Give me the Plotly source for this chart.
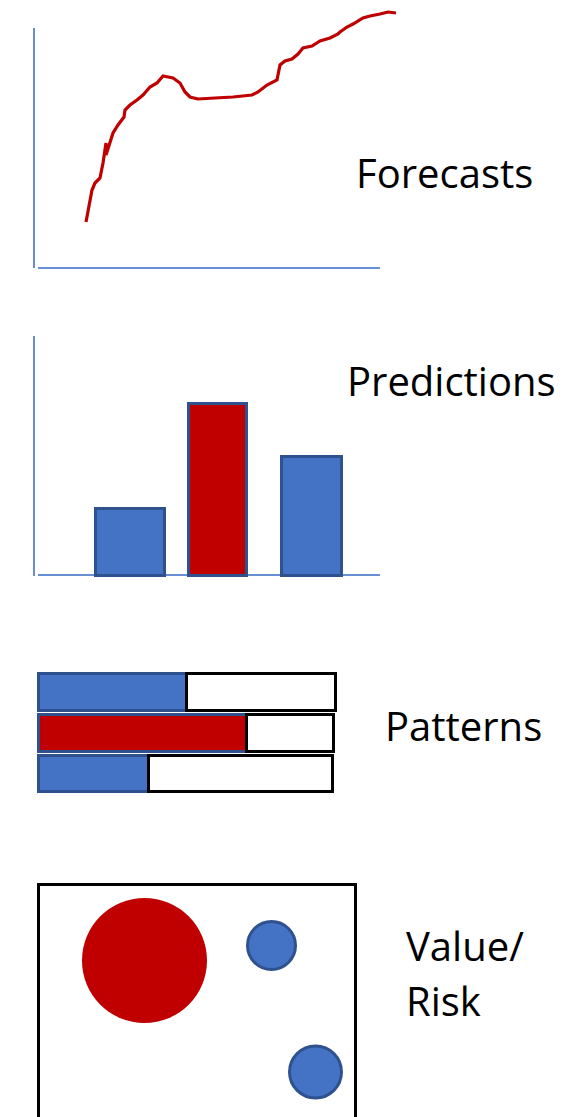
import plotly.graph_objects as go

W, H = 578, 1117

# ---- data -------------------------------------------------------------
# forecast line (time step, value)
forecast_t = [52, 58, 61, 66, 69, 72, 72, 75, 79, 84, 90, 91, 96, 103, 109, 116, 123,
              129, 139, 146, 151, 156, 164, 181, 199, 218, 224, 233, 243, 246, 251,
              258, 264, 269, 278, 286, 296, 304, 306, 313, 319, 329, 336, 346, 354, 362]
forecast_v = [46, 78, 85, 90, 105, 125, 113, 123, 135, 143, 151, 158, 163, 168, 173, 181,
              185, 192, 190, 185, 176, 171, 169, 170, 171, 173, 176, 183, 188, 203, 207,
              209, 214, 220, 222, 227, 230, 234, 236, 241, 244, 250, 252, 254, 256, 255]

# prediction bars
pred_pos = [96, 183, 277]
pred_width = [69, 58, 60]
pred_value = [67, 172, 119]
pred_color = ["#4472C4", "#C00000", "#4472C4"]

# pattern rows (filled share + remainder)
pattern_rows = ["A", "B", "C"]
pattern_filled = [148, 208, 110]
pattern_rest = [149, 87, 184]
pattern_color = ["#4472C4", "#C00000", "#4472C4"]

# value / risk bubbles
risk_x = [107.5, 234.5, 278.5]
risk_y = [156.5, 171.5, 45]
risk_size = [125, 48, 52]
risk_color = ["#C00000", "#4472C4", "#4472C4"]
risk_outline = [0, 3, 3]

labels = ["Forecasts", "Predictions", "Patterns", "Value/", "Risk"]

# ---- styling ----------------------------------------------------------
RED = "#C00000"
EDGE = "#2F528F"
AXIS = "#6A8ED3"
FONT = "Open Sans"
FSIZE = 40


def py(p):
    """pixel row -> paper fraction"""
    return 1 - p / H


fig = go.Figure()

# panel 1: line
fig.add_trace(go.Scatter(x=forecast_t, y=forecast_v, mode="lines",
                         line=dict(color=RED, width=3.2), xaxis="x", yaxis="y",
                         hoverinfo="skip"))

# panel 2: bars
fig.add_trace(go.Bar(x=pred_pos, y=pred_value, width=pred_width,
                     marker=dict(color=pred_color, line=dict(color=EDGE, width=3)),
                     xaxis="x2", yaxis="y2", hoverinfo="skip"))

# panel 3: stacked horizontal bars
fig.add_trace(go.Bar(y=pattern_rows, x=pattern_filled, orientation="h", width=0.9,
                     marker=dict(color=pattern_color, line=dict(color=EDGE, width=3)),
                     xaxis="x3", yaxis="y3", hoverinfo="skip"))
fig.add_trace(go.Bar(y=pattern_rows, x=pattern_rest, orientation="h", width=0.9,
                     marker=dict(color="white", line=dict(color="black", width=3)),
                     xaxis="x3", yaxis="y3", hoverinfo="skip"))

# panel 4: bubbles
fig.add_trace(go.Scatter(x=risk_x, y=risk_y, mode="markers",
                         marker=dict(size=risk_size, color=risk_color, opacity=1,
                                     line=dict(color=EDGE, width=risk_outline)),
                         xaxis="x4", yaxis="y4", hoverinfo="skip"))

# axis frames
shapes = [
    dict(type="line", xref="x", yref="y", x0=0, x1=0, y0=0, y1=240,
         line=dict(color=AXIS, width=2), layer="below"),
    dict(type="line", xref="x", yref="y", x0=4, x1=346, y0=0, y1=0,
         line=dict(color=AXIS, width=2), layer="below"),
    dict(type="line", xref="x2", yref="y2", x0=0, x1=0, y0=-1, y1=239,
         line=dict(color=AXIS, width=2), layer="below"),
    dict(type="line", xref="x2", yref="y2", x0=4, x1=346, y0=0, y1=0,
         line=dict(color=AXIS, width=2), layer="below"),
    dict(type="rect", xref="x4", yref="y4", x0=1.5, x1=318.5, y0=-20, y1=232.5,
         line=dict(color="black", width=3), layer="below"),
]

# labels
ann_pos = [(354, 172), (345, 380), (383, 725), (404, 945), (404, 1000.5)]
annotations = [
    dict(text=t, x=ax / W, y=py(ay), xref="paper", yref="paper",
         xanchor="left", yanchor="middle", showarrow=False,
         font=dict(family=FONT, size=FSIZE, color="black"))
    for t, (ax, ay) in zip(labels, ann_pos)
]

hidden = dict(visible=False, fixedrange=True)
c0, step = 692, 40.75
fig.update_layout(
    width=W, height=H, margin=dict(l=0, r=0, t=0, b=0),
    paper_bgcolor="white", plot_bgcolor="rgba(0,0,0,0)",
    showlegend=False, barmode="stack",
    xaxis=dict(hidden, domain=[0, 1], range=[-34, W - 34], anchor="y"),
    yaxis=dict(hidden, domain=[py(300), 1], range=[-32, 268], anchor="x"),
    xaxis2=dict(hidden, domain=[0, 1], range=[-34, W - 34], anchor="y2"),
    yaxis2=dict(hidden, domain=[py(640), py(300)], range=[-65, 275], anchor="x2"),
    xaxis3=dict(hidden, domain=[0, 1], range=[-38, W - 38], anchor="y3"),
    yaxis3=dict(hidden, domain=[py(840), py(640)], type="category",
                range=[(840 - c0) / step, (640 - c0) / step], anchor="x3"),
    xaxis4=dict(hidden, domain=[0, 1], range=[-37, W - 37], anchor="y4"),
    yaxis4=dict(hidden, domain=[0, py(840)], range=[0, H - 840], anchor="x4"),
    shapes=shapes, annotations=annotations,
)

fig.write_html("out.html")
